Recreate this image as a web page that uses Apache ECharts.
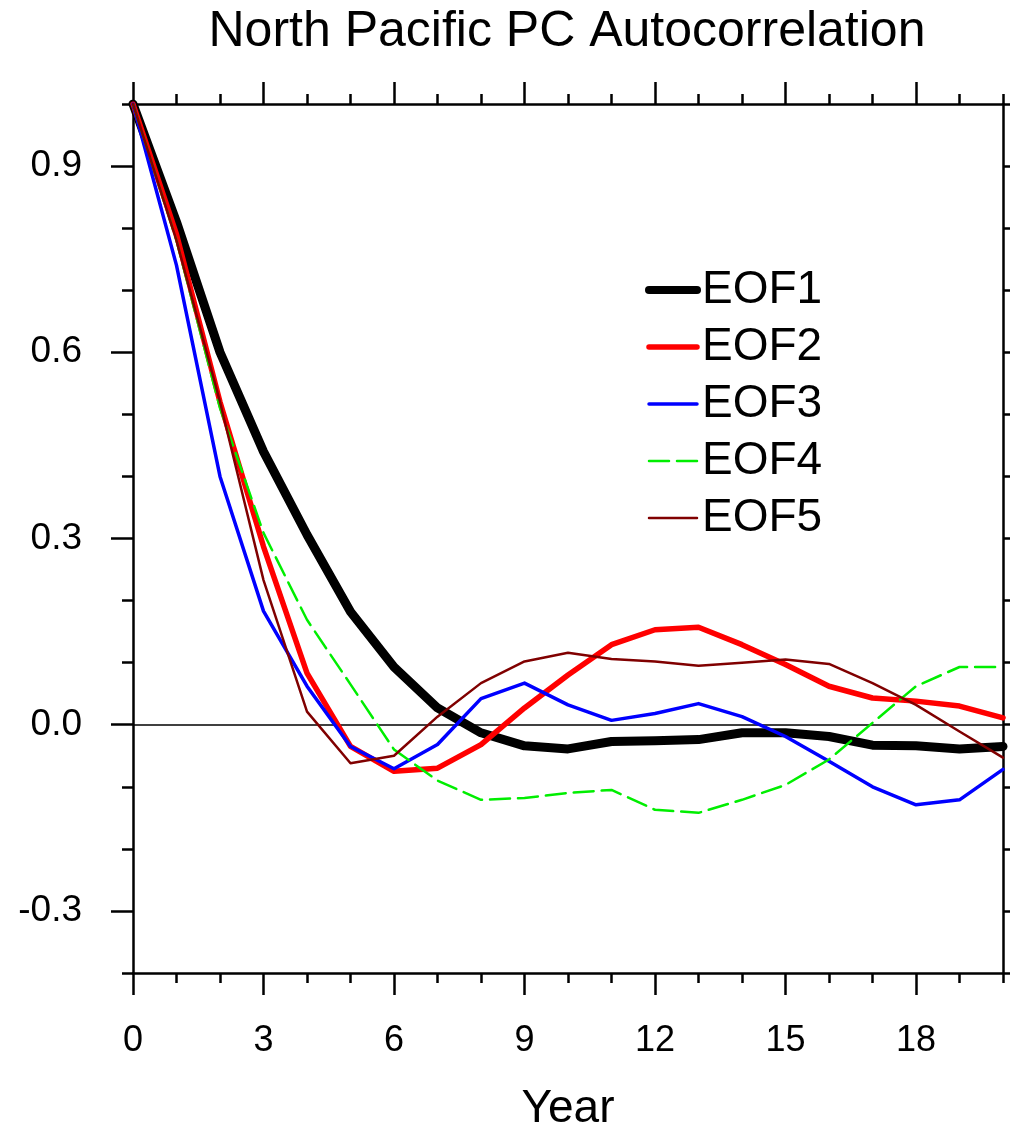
<!DOCTYPE html>
<html>
<head>
<meta charset="utf-8">
<script src="https://cdn.jsdelivr.net/npm/echarts@6/dist/echarts.min.js"></script>
<style>
html,body{margin:0;padding:0;background:#fff;}
#main{width:1010px;height:1133px;}
</style>
</head>
<body>
<div id="main"></div>
<script>
const years = [0,1,2,3,4,5,6,7,8,9,10,11,12,13,14,15,16,17,18,19,20];
const eof1 = [1.0, 0.81, 0.60, 0.44, 0.306, 0.182, 0.093, 0.027, -0.013, -0.034, -0.039, -0.027, -0.026, -0.024, -0.013, -0.013, -0.019, -0.033, -0.034, -0.039, -0.035];
const eof2 = [1.0, 0.79, 0.52, 0.287, 0.083, -0.035, -0.075, -0.07, -0.032, 0.027, 0.08, 0.129, 0.153, 0.157, 0.129, 0.097, 0.062, 0.043, 0.038, 0.03, 0.011];
const eof3 = [1.0, 0.74, 0.40, 0.183, 0.062, -0.035, -0.071, -0.032, 0.042, 0.067, 0.032, 0.007, 0.018, 0.034, 0.013, -0.019, -0.059, -0.1, -0.129, -0.121, -0.072];
const eof4 = [1.0, 0.78, 0.51, 0.309, 0.169, 0.065, -0.04, -0.09, -0.121, -0.118, -0.11, -0.105, -0.137, -0.142, -0.121, -0.097, -0.056, 0.003, 0.062, 0.093, 0.093];
const eof5 = [1.0, 0.78, 0.52, 0.233, 0.021, -0.062, -0.05, 0.013, 0.067, 0.102, 0.116, 0.106, 0.102, 0.095, 0.1, 0.105, 0.098, 0.067, 0.032, -0.011, -0.053];
const seriesNames = ['EOF1','EOF2','EOF3','EOF4','EOF5'];
const xMajorTicks = [0,3,6,9,12,15,18];
const xMinorTicks = [0,1,2,3,4,5,6,7,8,9,10,11,12,13,14,15,16,17,18,19,20];
const yMajorTicks = [-0.3,0,0.3,0.6,0.9];
const yMinorTicks = [-0.4,-0.3,-0.2,-0.1,0,0.1,0.2,0.3,0.4,0.5,0.6,0.7,0.8,0.9,1.0];

const FONT = 'Liberation Sans, Arial, Helvetica, sans-serif';
const pair = arr => years.map((y, i) => [y, arr[i]]);

function xAx(position, ticks, len, showLine, showLabel) {
  return {
    type: 'value', min: 0, max: 20, position: position, gridIndex: 0,
    axisLine: {show: showLine, onZero: false, lineStyle: {color: '#000', width: 2.5}},
    axisTick: {show: true, inside: false, customValues: ticks, length: len, lineStyle: {color: '#000', width: 2.5}},
    axisLabel: {show: showLabel, customValues: xMajorTicks, fontSize: 36, fontFamily: FONT, color: '#000', margin: 50},
    splitLine: {show: false}
  };
}
function yAx(position, ticks, len, showLine, showLabel) {
  return {
    type: 'value', min: -0.4, max: 1.0, position: position, gridIndex: 0,
    axisLine: {show: showLine, onZero: false, lineStyle: {color: '#000', width: 2.5}},
    axisTick: {show: true, inside: false, customValues: ticks, length: len, lineStyle: {color: '#000', width: 2.5}},
    axisLabel: {show: showLabel, customValues: yMajorTicks, fontSize: 37, fontFamily: FONT, color: '#000', margin: 51,
      formatter: v => (Math.abs(v) < 1e-9 ? 0 : v).toFixed(1)},
    splitLine: {show: false}
  };
}

const xBottom = xAx('bottom', xMajorTicks, 22, true, true);
xBottom.name = 'Year';
xBottom.nameLocation = 'middle';
xBottom.nameGap = 113;
xBottom.nameTextStyle = {fontSize: 46, fontFamily: FONT, color: '#000'};

const styles = [
  {color: '#000000', width: 9, type: 'solid'},
  {color: '#ff0000', width: 5.5, type: 'solid'},
  {color: '#0000ff', width: 3.5, type: 'solid'},
  {color: '#00ee00', width: 2.5, type: [20, 8]},
  {color: '#800000', width: 2.5, type: 'solid'}
];
const datas = [eof1, eof2, eof3, eof4, eof5];

const series = datas.map((d, i) => ({
  name: seriesNames[i],
  type: 'line',
  xAxisIndex: 0, yAxisIndex: 0,
  data: pair(d),
  symbol: 'none',
  showSymbol: false,
  smooth: false,
  color: styles[i].color,
  lineStyle: {color: styles[i].color, width: styles[i].width, type: styles[i].type, cap: 'round', join: 'round'},
  z: 3 + i
}));
series[0].markLine = {
  silent: true, symbol: 'none', label: {show: false},
  lineStyle: {color: '#000', width: 1.5, type: 'solid'},
  data: [{yAxis: 0}],
  z: 2
};

const legendData = seriesNames.map((n, i) => ({
  name: n,
  itemStyle: {opacity: 0},
  lineStyle: {width: Math.min(styles[i].width, 8), color: styles[i].color, type: styles[i].type, cap: 'round', opacity: 1}
}));

const chart = echarts.init(document.getElementById('main'), null, {renderer: 'canvas'});
chart.setOption({
  animation: false,
  backgroundColor: '#fff',
  title: {
    text: 'North Pacific PC Autocorrelation',
    left: 562, top: 2, textAlign: 'center',
    textStyle: {fontSize: 50, fontWeight: 'normal', fontFamily: FONT, color: '#000'}
  },
  legend: {
    orient: 'vertical', left: 645, top: 267, padding: 0,
    itemWidth: 48, itemHeight: 14, itemGap: 11,
    data: legendData,
    itemStyle: {opacity: 0},
    textStyle: {fontSize: 46, fontFamily: FONT, color: '#000', lineHeight: 46}
  },
  grid: {left: 133, right: 7, top: 104, bottom: 160, containLabel: false, outerBoundsMode: 'none'},
  xAxis: [
    xBottom,
    xAx('bottom', xMinorTicks, 10, false, false),
    xAx('top', xMajorTicks, 22, true, false),
    xAx('top', xMinorTicks, 10, false, false)
  ],
  yAxis: [
    yAx('left', yMajorTicks, 22, true, true),
    yAx('left', yMinorTicks, 11, false, false),
    yAx('right', yMajorTicks, 22, true, false),
    yAx('right', yMinorTicks, 11, false, false)
  ],
  series: series
});
</script>
</body>
</html>
